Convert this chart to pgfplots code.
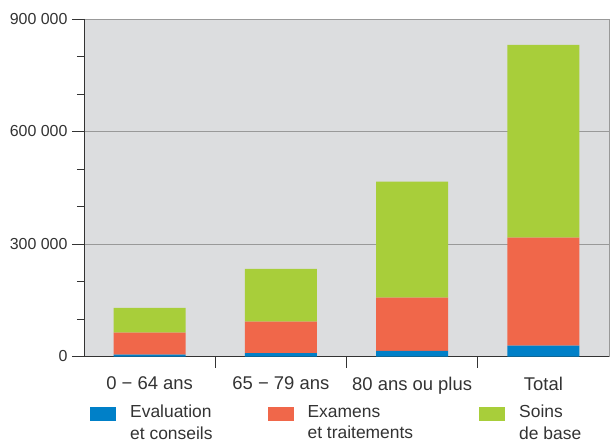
\documentclass[border=0pt]{standalone}
\usepackage{fontspec}
\setmainfont{Liberation Sans}
\usepackage{pgfplots}
\pgfplotsset{compat=1.18}

\definecolor{cblue}{HTML}{0080C8}
\definecolor{cred}{HTML}{F0674A}
\definecolor{cgreen}{HTML}{A8CE3A}
\definecolor{bggray}{HTML}{DCDDDF}
\definecolor{txt}{HTML}{333333}

\begin{document}
\begin{tikzpicture}
\begin{axis}[
    at={(0,0)}, anchor=south west,
    scale only axis,
    width=525bp, height=337.5bp,
    ybar stacked, bar width=72bp, bar shift=0pt,
    xmin=-0.5, xmax=3.5,
    ymin=0, ymax=900000,
    axis background/.style={fill=bggray},
    axis line style={draw=gray!80},
    xtick={0,1,2,3},
    xticklabels={0 − 64 ans, 65 − 79 ans, 80 ans ou plus, Total},
    xtick style={draw=none},
    extra x ticks={0.5,1.5,2.5},
    extra x tick labels={,,},
    extra x tick style={major tick length=11bp, xtick style={draw=txt, line width=0.8pt}},
    ytick={0,300000,600000,900000},
    yticklabels={0, 300 000, 600 000, 900 000},
    scaled y ticks=false,
    minor y tick num=2,
    ytick pos=left, xtick pos=bottom,
    tick align=outside,
    major tick length=12bp, minor tick length=7bp,
    ytick style={draw=txt, line width=0.8pt},
    yticklabel style={font=\fontsize{16}{18}\selectfont, text=txt, xshift=-1bp},
    xticklabel style={font=\fontsize{18.5}{20}\selectfont, text=txt, yshift=-5bp},
    ymajorgrids, grid style={draw=gray!80, line width=0.8pt},
    legend columns=3,
    legend style={at={(0,0)}, anchor=north west, xshift=6bp, yshift=-48bp,
        draw=none, fill=none, inner sep=0pt,
        nodes={align=left, inner sep=0pt, text=txt, font=\fontsize{17.5}{22}\selectfont},
        /tikz/column 1/.style={column sep=14bp},
        /tikz/column 2/.style={column sep=55bp},
        /tikz/column 3/.style={column sep=14bp},
        /tikz/column 4/.style={column sep=66bp},
        /tikz/column 5/.style={column sep=14bp}},
    legend image code/.code={\fill[#1, draw=none] (0bp,2bp) rectangle (26bp,16bp);},
]
\addplot[fill=cblue, draw=none] coordinates {(0,5000) (1,9000) (2,15000) (3,29000)};
\addlegendentry{Evaluation\\et conseils}
\addplot[fill=cred, draw=none] coordinates {(0,59000) (1,84000) (2,142000) (3,288000)};
\addlegendentry{Examens\\et traitements}
\addplot[fill=cgreen, draw=none] coordinates {(0,66000) (1,141000) (2,309000) (3,514000)};
\addlegendentry{Soins\\de base}
\draw[txt, line width=1pt] (rel axis cs:0,1) -- (rel axis cs:0,0) -- (rel axis cs:1,0);
\end{axis}
\pgfresetboundingbox
\useasboundingbox (-84bp,-86.5bp) rectangle (527bp,356.5bp);
\end{tikzpicture}
\end{document}
